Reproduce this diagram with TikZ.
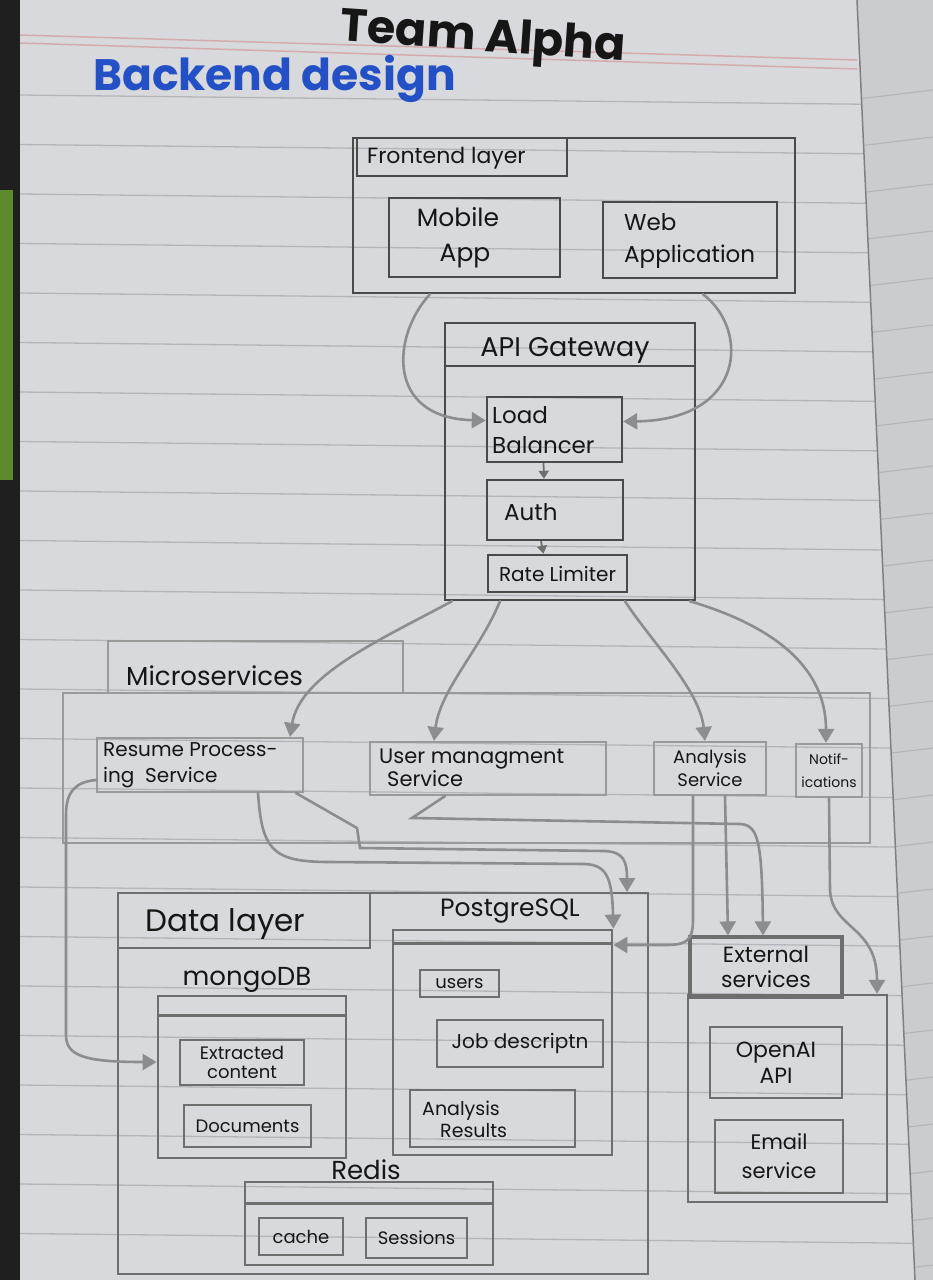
\documentclass[tikz,border=0pt]{standalone}
\usepackage{fontspec}
\setmainfont{Poppins}
\usetikzlibrary{arrows.meta,calc}

\definecolor{paper}{HTML}{D8D9DC}
\definecolor{paperR}{HTML}{CBCCCF}
\definecolor{rule}{HTML}{B2B5BA}
\definecolor{margin}{HTML}{D6A9AC}
\definecolor{pencil}{HTML}{4A4A4A}
\definecolor{pencilM}{HTML}{6E6E6E}
\definecolor{pencilL}{HTML}{9A9A9A}
\definecolor{wire}{HTML}{8C8D90}
\definecolor{ink}{HTML}{161616}
\definecolor{blueink}{HTML}{2450C6}
\definecolor{leaf}{HTML}{5C8A2C}

% box given by its two corners (pixel-like units, y downwards)
\newcommand\sketchbox[7]{%
  \pgfmathsetmacro\skw{#4-#2}\pgfmathsetmacro\skh{#5-#3}%
  \node[#6, minimum width=\skw pt, minimum height=\skh pt] (#1)
    at ({(#2+#4)/2},{(#3+#5)/2}) {#7};}

\tikzset{
  fs/.style 2 args={font=\fontsize{#1}{#2}\selectfont},
  box/.style={draw=pencil, line width=2.4pt, inner sep=1pt, text=ink},
  lbox/.style={draw=pencilL, line width=2.2pt, inner sep=1pt, text=ink},
  dbox/.style={draw=pencilM, line width=2pt, inner sep=1pt, text=ink},
  sbox/.style={draw=pencilM, line width=2.8pt, inner sep=1pt, text=ink},
  ebox/.style={draw=pencilM, line width=2.4pt, inner sep=1pt, text=ink},
  txt/.style={text=ink, inner sep=0pt},
  wire/.style={draw=wire, line width=2.6pt, line cap=round,
    -{Triangle[length=14pt,width=16pt]}},
  minor/.style={draw=pencilM, line width=1.8pt,
    -{Triangle[length=8pt,width=10pt]}},
}

\begin{document}
\begin{tikzpicture}[x=1pt,y=-1pt]
\useasboundingbox (0,0) rectangle (933,1280);

% notebook page
\fill[paper] (0,0) rectangle (933,1280);
\fill[paperR] (857,0) -- (933,0) -- (933,1280) -- (915,1280) -- cycle;
\fill[black!88] (0,0) rectangle (20,1280);
\fill[leaf] (0,190) rectangle (13,480);
\begin{scope}
  \clip (20,0) -- (857,0) -- (915,1280) -- (20,1280) -- cycle;
  \foreach \i in {0,...,24}
    \draw[rule, line width=1.3pt] (20,{95+49.5*\i}) -- (933,{105+49.5*\i});
  \draw[margin, line width=1.5pt] (20,35) -- (857,60);
  \draw[margin, line width=1.5pt] (20,43) -- (857,69);
\end{scope}
\begin{scope}
  \clip (857,0) -- (933,0) -- (933,1280) -- (915,1280) -- cycle;
  \foreach \i in {0,...,26}
    \draw[rule, line width=1.2pt] (850,{100+47*\i}) -- (933,{90+47*\i});
\end{scope}
\draw[black!50, line width=1.5pt] (857,0) -- (915,1280);

% headings
\node[text=ink, font=\fontsize{46}{46}\selectfont\bfseries, rotate=-4, inner sep=0pt]
  (title) at (483,40) {Team Alpha};
\node[text=blueink, font=\fontsize{44}{44}\selectfont\bfseries, anchor=base west, inner sep=0pt]
  (subtitle) at (93,90) {Backend design};

% frontend layer
\sketchbox{front}{353}{138}{795}{293}{box}{}
\sketchbox{frontlbl}{357}{138}{567}{176}{box}{}
\node[txt, fs={22}{22}, anchor=west] (frontlbl-t) at (367,158) {Frontend layer};
\sketchbox{mobile}{389}{198}{560}{277}{box}{}
\node[txt, fs={25}{35}, align=center] (mobile-t) at (458,238) {Mobile\\\hspace*{14pt}App};
\sketchbox{web}{603}{202}{777}{278}{box}{}
\node[txt, fs={23}{32}, align=left, anchor=west] (web-t) at (624,241) {Web\\Application};

% API gateway
\sketchbox{api}{445}{323}{695}{600}{box}{}
\draw[pencil, line width=2.4pt] ($(api.north west)+(0,44)$) -- ($(api.north east)+(0,44)$);
\node[txt, fs={27}{28}] (api-t) at (565,350) {API Gateway};
\sketchbox{lb}{487}{397}{622}{462}{box}{}
\node[txt, fs={23}{30}, align=left, anchor=west] (lb-t) at (492,430) {Load\\Balancer};
\sketchbox{auth}{487}{480}{623}{540}{box}{}
\node[txt, fs={23}{24}, anchor=west] (auth-t) at (504,512) {Auth};
\sketchbox{rate}{488}{555}{627}{592}{box, fs={20}{20}}{Rate Limiter}
\draw[minor] ([xshift=-11pt]lb.south) -- ([xshift=-11pt]auth.north);
\draw[minor] ([xshift=-14pt]auth.south) -- ([xshift=-14pt]rate.north);

% microservices
\sketchbox{micro}{63}{693}{870}{843}{lbox}{}
\sketchbox{microlbl}{108}{641}{403}{693}{lbox}{}
\node[txt, fs={26}{26}, anchor=west] (microlbl-t) at (126,676) {Microservices};
\sketchbox{resume}{97}{738}{303}{792}{lbox}{}
\node[txt, fs={20}{26}, align=left, anchor=west] (resume-t) at (103,765) {Resume Process-\\ing\ \ Service};
\sketchbox{user}{370}{742}{606}{795}{lbox}{}
\node[txt, fs={21}{23}, align=left, anchor=west] (user-t) at (379,768) {User managment\\\hspace*{8pt}Service};
\sketchbox{analysis}{654}{742}{766}{795}{lbox, fs={18}{23}, align=center}{Analysis\\Service}
\sketchbox{notif}{796}{744}{862}{797}{lbox, fs={14}{23}, align=center, inner sep=0pt}{Notif-\\ications}

% data layer
\sketchbox{data}{118}{893}{648}{1274}{dbox}{}
\sketchbox{datalbl}{118}{893}{370}{948}{dbox}{}
\node[txt, fs={31}{32}, anchor=west] (datalbl-t) at (145,924) {Data layer};

\node[txt, fs={25}{26}] (pg-t) at (510,911) {PostgreSQL};
\sketchbox{pg}{393}{930}{612}{1155}{sbox}{}
\draw[pencilM, line width=2.8pt] ($(pg.north west)+(0,15)$) -- ($(pg.north east)+(0,15)$);
\sketchbox{users}{420}{970}{499}{997}{sbox, fs={18}{18}}{users}
\sketchbox{job}{437}{1020}{603}{1067}{sbox, fs={20}{20}}{Job descriptn}
\sketchbox{results}{410}{1090}{575}{1147}{sbox}{}
\node[txt, fs={19}{22}, align=left, anchor=west] (results-t) at (422,1119) {Analysis\\\hspace*{18pt}Results};

\node[txt, fs={26}{26}] (mongo-t) at (247,980) {mongoDB};
\sketchbox{mongo}{158}{996}{346}{1158}{sbox}{}
\draw[pencilM, line width=2.8pt] ($(mongo.north west)+(0,21)$) -- ($(mongo.north east)+(0,21)$);
\sketchbox{extr}{180}{1040}{304}{1085}{sbox, fs={18}{19}, align=center}{Extracted\\content}
\sketchbox{docs}{184}{1105}{311}{1147}{sbox, fs={18}{20}}{Documents}

\node[txt, fs={26}{26}] (redis-t) at (366,1170) {Redis};
\sketchbox{redis}{245}{1182}{493}{1265}{sbox}{}
\draw[pencilM, line width=2.8pt] ($(redis.north west)+(0,23)$) -- ($(redis.north east)+(0,23)$);
\sketchbox{cache}{259}{1218}{343}{1255}{sbox, fs={18}{20}}{cache}
\sketchbox{sess}{366}{1218}{467}{1258}{sbox, fs={18}{20}}{Sessions}

% external services
\sketchbox{ext}{688}{995}{887}{1202}{ebox}{}
\sketchbox{extlbl}{690}{937}{842}{997}{ebox, line width=3.2pt, fs={22}{25}, align=center}{External\\services}
\sketchbox{openai}{710}{1027}{842}{1098}{ebox, fs={22}{26}, align=center}{OpenAI\\API}
\sketchbox{email}{715}{1120}{843}{1193}{ebox, fs={21}{29}, align=center}{Email\\service}

% frontend -> gateway
\draw[wire] ([xshift=-144pt]front.south) .. controls (392,335) and (385,418) .. ([yshift=9pt]lb.west);
\draw[wire] ([xshift=129pt]front.south) .. controls (750,330) and (745,420) .. ([yshift=8pt]lb.east);

% gateway -> microservices
\draw[wire] ([xshift=-118pt]api.south) .. controls (380,640) and (300,675) .. ([xshift=90pt]resume.north);
\draw[wire] ([xshift=-70pt]api.south) .. controls (480,650) and (440,690) .. ([xshift=-54pt]user.north);
\draw[wire] ([xshift=55pt]api.south) .. controls (650,640) and (700,690) .. ([xshift=-5pt]analysis.north);
\draw[wire] ([xshift=120pt]api.south) .. controls (770,625) and (826,665) .. ([xshift=-3pt]notif.north);

% microservices -> data and external services
\draw[wire] ([yshift=-15pt]resume.west) .. controls (75,782) and (66,792) .. (66,815)
  -- (66,1035) .. controls (66,1056) and (85,1062) .. ([yshift=15pt]mongo.west);
\draw[wire] ([xshift=58pt]resume.south) .. controls (262,850) and (272,862) .. (330,862)
  -- (585,864) .. controls (608,865) and (612,880) .. (pg.north east);
\draw[wire] ([xshift=-8pt]resume.south east) -- (357,828) -- (360,848) -- (605,851)
  .. controls (624,852) and (627,862) .. ([xshift=244pt]data.north);
\draw[wire] ([xshift=-43pt]user.south) -- (412,818) -- (740,824)
  .. controls (758,825) and (762,840) .. ([xshift=-3pt]extlbl.north);
\draw[wire] ([xshift=-17pt]analysis.south) -- (693,920) .. controls (693,942) and (685,945) .. (665,945)
  -- ([yshift=97.5pt]pg.east);
\draw[wire] ([xshift=15pt]analysis.south) -- ([xshift=-38pt]extlbl.north);
\draw[wire] (notif.south) -- (830,890) .. controls (832,930) and (877,925) .. ([xshift=89.5pt]ext.north);
\end{tikzpicture}
\end{document}
